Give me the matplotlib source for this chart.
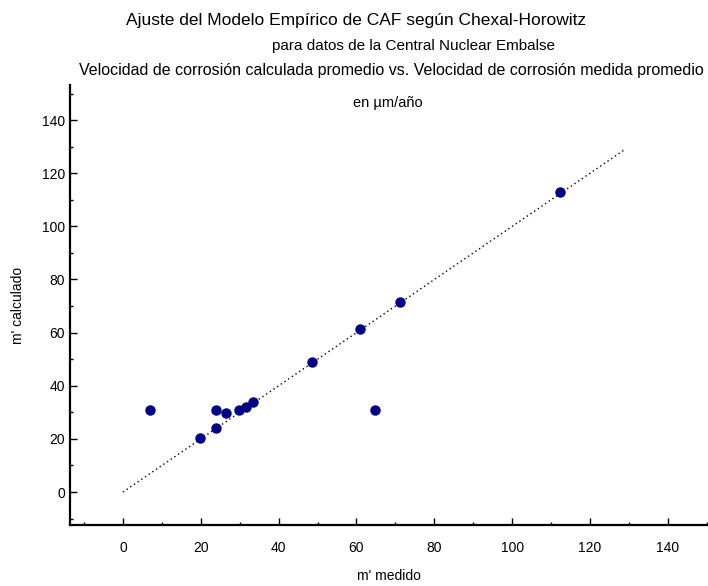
import matplotlib
matplotlib.use("Agg")
import matplotlib.pyplot as plt
from matplotlib.ticker import MultipleLocator

plt.rcParams['font.family'] = ['Liberation Sans', 'DejaVu Sans']

m_medido = [6.9, 24.0, 26.6, 29.9, 31.6, 33.5, 23.9, 19.9, 64.7, 48.5, 60.8, 71.2, 112.4]
m_calculado = [31.0, 31.0, 29.8, 31.0, 32.0, 33.8, 24.2, 20.2, 30.9, 49.0, 61.2, 71.5, 112.9]
linea_x = [0, 129]
linea_y = [0, 129]

fig = plt.figure(figsize=(7.08, 5.86), dpi=100)
ax = fig.add_axes([70/708, 1-525/586, 638/708, 440/586])

ax.plot(linea_x, linea_y, color='black', linestyle=(0, (1, 2.2)), linewidth=1.0)
ax.plot(m_medido, m_calculado, 'o', color='#000080', markersize=6.5, linestyle='none')

ax.set_xlim(-13.6, 150.3)
ax.set_ylim(-12.4, 153.2)
ax.xaxis.set_major_locator(MultipleLocator(20))
ax.xaxis.set_minor_locator(MultipleLocator(10))
ax.yaxis.set_major_locator(MultipleLocator(20))
ax.yaxis.set_minor_locator(MultipleLocator(10))
ax.tick_params(which='major', direction='in', length=5, width=1, labelsize=10)
ax.tick_params(axis='x', which='major', pad=11.5)
ax.tick_params(axis='y', which='major', pad=3.5)
ax.tick_params(which='minor', direction='in', length=2.5, width=1)
for s in ['top', 'right']:
    ax.spines[s].set_visible(False)
for s in ['left', 'bottom']:
    ax.spines[s].set_linewidth(1.6)

ax.set_xlabel("m' medido", fontsize=10, labelpad=10)
ax.set_ylabel("m' calculado", fontsize=10, labelpad=12)

fig.text(356/708, 1-20/586, 'Ajuste del Modelo Empírico de CAF según Chexal-Horowitz',
         ha='center', va='center', fontsize=12.5)
fig.text(414/708, 1-46/586, 'para datos de la Central Nuclear Embalse',
         ha='center', va='center', fontsize=11.0)
fig.text(391/708, 1-70/586, 'Velocidad de corrosión calculada promedio vs. Velocidad de corrosión medida promedio',
         ha='center', va='center', fontsize=11.5)
fig.text(388/708, 1-103/586, 'en µm/año', ha='center', va='center', fontsize=10.5)

fig.savefig('out.png', dpi=100)
